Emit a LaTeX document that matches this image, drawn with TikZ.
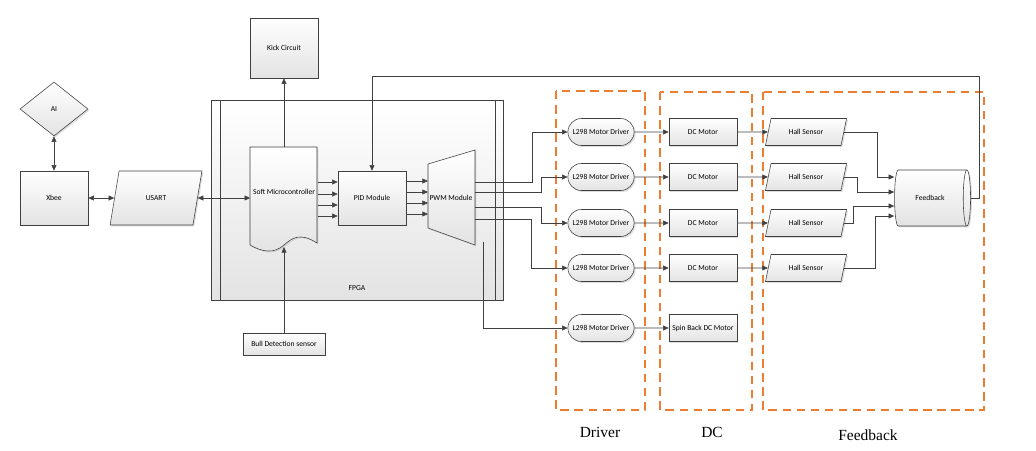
\documentclass[tikz,border=0pt]{standalone}
\usepackage{fontspec}
\setmainfont{Carlito}
\newfontfamily\capfont{Liberation Serif}
\usetikzlibrary{shapes.geometric,shapes.misc,shadows,arrows.meta}
\definecolor{dashorange}{RGB}{237,125,49}
\tikzset{
  every node/.style={font=\fontsize{5.4}{6.5}\selectfont},
  blk/.style={draw=black!75, top color=white, bottom color=gray!22,
    drop shadow={shadow xshift=1pt,shadow yshift=-1pt,fill=gray!55}},
  box/.style={blk, rectangle, minimum width=1.7cm, minimum height=0.675cm, inner sep=1pt},
  bigbox/.style={box, minimum height=1.35cm},
  drv/.style={blk, rounded rectangle, minimum width=1.725cm, minimum height=0.675cm, inner sep=1pt},
  io/.style={blk, trapezium, trapezium left angle=70, trapezium right angle=110,
    trapezium stretches=true, minimum width=1.8cm, minimum height=0.675cm, inner sep=1pt},
  conn/.style={draw=black!75, -{Triangle[length=4pt,width=3.5pt]}},
  dconn/.style={draw=black!75, {Triangle[length=4pt,width=3.5pt]}-{Triangle[length=4pt,width=3.5pt]}},
  group/.style={draw=dashorange, line width=1.6pt, dash pattern=on 6pt off 4pt},
  caption/.style={font=\capfont\fontsize{11}{13}\selectfont}
}
\begin{document}
\begin{tikzpicture}[x=0.025cm,y=-0.025cm]
\useasboundingbox (0,0) rectangle (1036,450);

% groups
\draw[group] (556,91) rectangle (645,410);
\draw[group] (660,92) rectangle (752,410);
\draw[group] (763,92) rectangle (984,410);
\node[caption] (driverlbl) at (600,432) {Driver};
\node[caption] (dclbl) at (712,432) {DC};
\node[caption] (feedbacklbl) at (868,435) {Feedback};

% FPGA
\draw[blk] (211,100) rectangle (503,300);
\draw[draw=black!75] (220,100) -- (220,300) (495,100) -- (495,300);
\node (fpga) at (357,288) {FPGA};

% left side
\node[blk, diamond, minimum width=1.7cm, minimum height=1.35cm, inner sep=0pt] (ai) at (54,109) {AI};
\node[bigbox] (xbee) at (54,198) {Xbee};
\node[io, minimum width=2.3cm, minimum height=1.35cm] (usart) at (156,198) {USART};
\node[box, minimum height=1.5cm] (kick) at (284,48) {Kick Circuit};
\node[box, minimum width=2.05cm, minimum height=0.55cm] (bull) at (284,344) {Bull Detection sensor};

% soft microcontroller (document shape)
\draw[blk] (250,147) -- (317,147) -- (317,243)
  .. controls (300,232) and (292,238) .. (284,245)
  .. controls (274,254) and (262,252) .. (250,245) -- cycle;
\node[minimum width=1.675cm, minimum height=2.45cm, inner sep=0pt] (smc) at (284,196) {};
\node (smctxt) at (284,192) {Soft Microcontroller};
\node[bigbox] (pid) at (372,198) {PID Module};

% PWM trapezoid
\draw[blk] (428,164) -- (475,150) -- (475,245) -- (428,228) -- cycle;
\node[minimum width=1.175cm, minimum height=1.6cm, inner sep=0pt] (pwm) at (451,198) {};
\node (pwmtxt) at (451,198) {PWM Module};

% drivers, motors, sensors
\foreach \i/\y in {1/132,2/177,3/223,4/268}{
  \node[drv] (drv\i) at (601,\y) {L298 Motor Driver};
  \node[box] (dcm\i) at (703,\y) {DC Motor};
  \node[io, minimum width=2.03cm] (hall\i) at (806,\y) {Hall Sensor};
  \draw[conn] (drv\i) -- (dcm\i);
  \draw[conn] (dcm\i) -- (hall\i);
}
\node[drv] (drv5) at (601,328) {L298 Motor Driver};
\node[box] (dcm5) at (703,328) {Spin Back DC Motor};
\draw[conn] (drv5) -- (dcm5);

\node[blk, cylinder, shape aspect=0.9, minimum width=1.4cm, minimum height=1.9cm, inner sep=1pt] (fb) at (930,198) {Feedback};

% connectors
\draw[dconn] (ai) -- (xbee);
\draw[dconn] (xbee) -- (usart);
\draw[dconn] (usart.east) -- (smc.west |- usart.east);
\draw[conn] (smc.north) -- (kick.south);
\draw[conn] (bull.north) -- (284,247);
\foreach \y in {182,194,205,216}
  \draw[conn] (smc.east |- 0,\y) -- (pid.west |- 0,\y);
\foreach \y in {181,192,203,214}
  \draw[conn] (pid.east |- 0,\y) -- (428,\y);

\draw[conn] (475,182) -| (532,132) -- (drv1.west);
\draw[conn] (475,192) -| (541,177) -- (drv2.west);
\draw[conn] (475,207) -| (541,223) -- (drv3.west);
\draw[conn] (475,219) -| (531,268) -- (drv4.west);
\draw[conn] (483,242) |- (drv5.west);

\draw[conn] (hall1.east) -| (877,177) -- (fb.west |- 0,177);
\draw[conn] (hall2.east) -| (857,192) -- (fb.west |- 0,192);
\draw[conn] (hall3.east) -| (853,206) -- (fb.west |- 0,206);
\draw[conn] (hall4.east) -| (875,216) -- (fb.west |- 0,216);

\draw[conn] (fb.east) -| (979,76) -| (pid.north);
\end{tikzpicture}
\end{document}
